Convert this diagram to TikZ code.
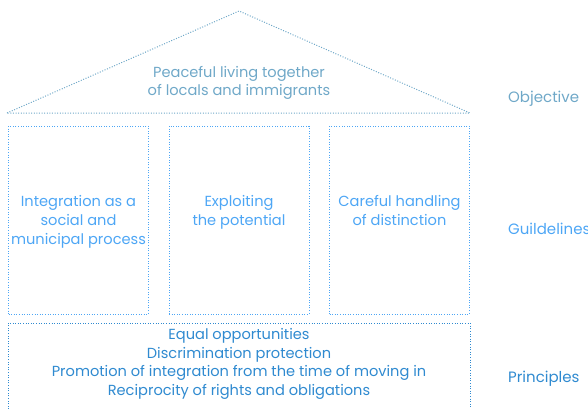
\documentclass[tikz,border=0pt]{standalone}
\usepackage{fontspec}
\setmainfont{Poppins}
\usepackage{tikz}
\usetikzlibrary{positioning}
\definecolor{RoofBlue}{HTML}{6FA8C8}
\definecolor{PillarBlue}{HTML}{4DA6F5}
\definecolor{BaseBlue}{HTML}{2F8AD0}

\begin{document}
\begin{tikzpicture}[x=1pt,y=-1pt,
  dots/.style={line width=1pt, dash pattern=on 1pt off 1.6pt},
  pillar/.style={dots, draw=PillarBlue, minimum width=140pt, minimum height=188pt, inner sep=0pt},
  txt/.style={align=center, inner sep=0pt, font=\fontsize{14.6}{18.6}\selectfont},
  ptext/.style={txt, text=PillarBlue, anchor=north},
  side/.style={anchor=west, inner sep=0pt, font=\fontsize{15}{18.5}\selectfont}]
\useasboundingbox (0,0) rectangle (588,408);
% roof
\coordinate (rl) at (7,113);
\coordinate (rt) at (239,11);
\coordinate (rr) at (470,113);
\draw[dots, RoofBlue] (rl) -- (rt) -- (rr) -- cycle;
\node[txt, text=RoofBlue] (obj) at (239,83)
  {Peaceful living together\\of locals and immigrants};
% pillars
\node[pillar] (g1) at (78.5,220) {};
\node[pillar] (g2) at (239,220) {};
\node[pillar] (g3) at (399.5,220) {};
\node[ptext] (t1) at (g1.center) [yshift=24.5pt] {Integration as a\\social and\\municipal process};
\node[ptext] (t2) at (g2.center) [yshift=24.5pt] {Exploiting\\the potential};
\node[ptext] (t3) at (g3.center) [yshift=24.5pt] {Careful handling\\of distinction};
% base
\draw[dots, BaseBlue] (8,412) |- (470,323) -- (470,412);
\node[txt, text=BaseBlue] (pr) at (239,364)
  {Equal opportunities\\Discrimination protection\\Promotion of integration from the time of moving in\\Reciprocity of rights and obligations};
% level names
\node[side, text=RoofBlue] (lo) at (508,99) {Objective};
\node[side, text=PillarBlue] (lg) at (508,229) {Guildelines};
\node[side, text=BaseBlue] (lp) at (508,379) {Principles};
\end{tikzpicture}
\end{document}
